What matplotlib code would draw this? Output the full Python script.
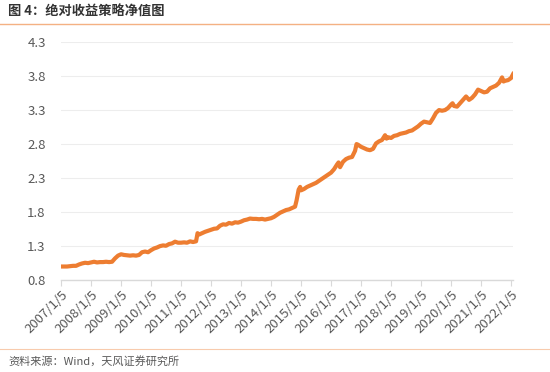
import matplotlib
matplotlib.use("Agg")
import matplotlib.pyplot as plt
from matplotlib.lines import Line2D

plt.rcParams['font.family'] = ['Noto Sans CJK SC', 'DejaVu Sans']

# net value readings (fractional year, value)
years = [2007.0, 2007.1, 2007.2, 2007.3, 2007.4, 2007.5, 2007.6, 2007.7, 2007.8, 2007.9,
         2008.0, 2008.1, 2008.2, 2008.3, 2008.4, 2008.5, 2008.6, 2008.7, 2008.8, 2008.9,
         2009.0, 2009.1, 2009.2, 2009.3, 2009.4, 2009.5, 2009.6, 2009.7, 2009.8, 2009.9,
         2010.0, 2010.1, 2010.2, 2010.3, 2010.4, 2010.5, 2010.6, 2010.7, 2010.8, 2010.9,
         2011.0, 2011.1, 2011.2, 2011.3, 2011.4, 2011.5, 2011.55, 2011.6, 2011.7, 2011.8,
         2011.9, 2012.0, 2012.1, 2012.2, 2012.3, 2012.4, 2012.5, 2012.6, 2012.7, 2012.8,
         2012.9, 2013.0, 2013.1, 2013.2, 2013.3, 2013.4, 2013.5, 2013.6, 2013.7, 2013.8,
         2013.9, 2014.0, 2014.1, 2014.2, 2014.3, 2014.4, 2014.5, 2014.6, 2014.7, 2014.8,
         2014.85, 2014.92, 2014.97, 2015.0, 2015.1, 2015.2, 2015.3, 2015.4, 2015.5, 2015.6,
         2015.7, 2015.8, 2015.9, 2016.0, 2016.1, 2016.2, 2016.25, 2016.3, 2016.4, 2016.5,
         2016.6, 2016.7, 2016.8, 2016.85, 2016.9, 2017.0, 2017.1, 2017.2, 2017.3, 2017.4,
         2017.5, 2017.6, 2017.7, 2017.8, 2017.85, 2017.9, 2018.0, 2018.1, 2018.2, 2018.3,
         2018.4, 2018.5, 2018.6, 2018.7, 2018.8, 2018.9, 2019.0, 2019.1, 2019.2, 2019.3,
         2019.4, 2019.5, 2019.6, 2019.7, 2019.8, 2019.9, 2020.0, 2020.05, 2020.1, 2020.2,
         2020.3, 2020.4, 2020.5, 2020.6, 2020.7, 2020.8, 2020.9, 2021.0, 2021.1, 2021.2,
         2021.3, 2021.4, 2021.5, 2021.6, 2021.7, 2021.75, 2021.8, 2021.9, 2022.0, 2022.07]
nav = [1.00, 1.00, 1.00, 1.005, 1.01, 1.01, 1.03, 1.045, 1.055, 1.05,
       1.06, 1.07, 1.06, 1.065, 1.065, 1.07, 1.065, 1.07, 1.12, 1.16,
       1.18, 1.17, 1.165, 1.16, 1.165, 1.16, 1.17, 1.21, 1.22, 1.21,
       1.24, 1.265, 1.28, 1.30, 1.31, 1.305, 1.33, 1.34, 1.365, 1.35,
       1.35, 1.355, 1.35, 1.37, 1.36, 1.37, 1.49, 1.47, 1.49, 1.51,
       1.525, 1.54, 1.555, 1.56, 1.60, 1.62, 1.615, 1.64, 1.63, 1.65,
       1.645, 1.66, 1.68, 1.69, 1.705, 1.70, 1.70, 1.695, 1.70, 1.69,
       1.70, 1.71, 1.73, 1.76, 1.79, 1.81, 1.83, 1.84, 1.86, 1.88,
       1.97, 2.13, 2.17, 2.12, 2.14, 2.17, 2.19, 2.21, 2.23, 2.26,
       2.29, 2.32, 2.35, 2.38, 2.43, 2.50, 2.53, 2.46, 2.54, 2.58,
       2.60, 2.61, 2.70, 2.80, 2.79, 2.76, 2.74, 2.72, 2.71, 2.73,
       2.81, 2.84, 2.86, 2.93, 2.88, 2.90, 2.89, 2.92, 2.93, 2.95,
       2.96, 2.97, 2.99, 3.00, 3.03, 3.06, 3.10, 3.13, 3.12, 3.11,
       3.18, 3.26, 3.30, 3.29, 3.30, 3.33, 3.38, 3.40, 3.36, 3.35,
       3.40, 3.45, 3.50, 3.45, 3.48, 3.53, 3.60, 3.58, 3.56, 3.57,
       3.62, 3.64, 3.66, 3.70, 3.78, 3.72, 3.73, 3.74, 3.77, 3.83]

tick_years = list(range(2007, 2023))
tick_labels = [f"{y}/1/5" for y in tick_years]
y_ticks = [0.8, 1.3, 1.8, 2.3, 2.8, 3.3, 3.8, 4.3]

title = "图 4：绝对收益策略净值图"
source = "资料来源：Wind，天风证券研究所"

fig = plt.figure(figsize=(5.5, 3.72), dpi=100)
ax = fig.add_axes([0.111, 0.247, 0.822, 0.640])

ax.plot(years, nav, color='#ED7D31', linewidth=3.0, solid_joinstyle='round')

ax.set_xlim(2007.0, 2022.07)
ax.set_ylim(0.8, 4.3)
ax.set_yticks(y_ticks)
ax.set_yticklabels([f"{v:.1f}" for v in y_ticks])
ax.set_xticks(tick_years)
ax.set_xticklabels(tick_labels, rotation=45, ha='right', rotation_mode='anchor')

ax.grid(axis='y', color='#EDEDED', linewidth=0.8)
ax.set_axisbelow(True)
for side in ['top', 'right', 'left']:
    ax.spines[side].set_visible(False)
ax.spines['bottom'].set_color('#D9D9D9')
ax.spines['bottom'].set_linewidth(1.0)
ax.tick_params(axis='x', colors='#D9D9D9', length=4, width=0.8, labelcolor='#595959',
               labelsize=9.5, pad=2)
ax.tick_params(axis='y', length=0, labelcolor='#595959', labelsize=9.5, pad=11)

fig.text(0.015, 0.968, title, fontsize=9.5, fontweight='bold', color='#333333',
         ha='left', va='center')
fig.add_artist(Line2D([0, 1], [0.935, 0.935], transform=fig.transFigure,
                      color='#F4B183', linewidth=1.0))
fig.add_artist(Line2D([0, 1], [0.062, 0.062], transform=fig.transFigure,
                      color='#F8CBAD', linewidth=0.8))
fig.text(0.015, 0.030, source, fontsize=8, color='#595959', ha='left', va='center')

fig.savefig('out.png', dpi=100)
